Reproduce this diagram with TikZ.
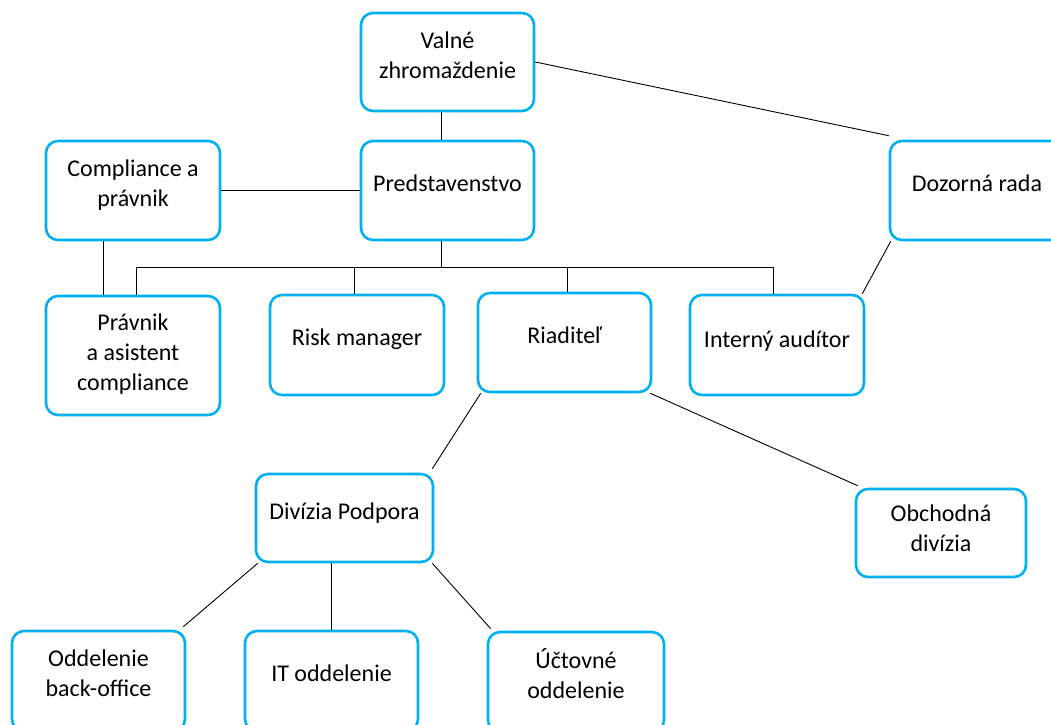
\documentclass[tikz,border=0pt]{standalone}
\usepackage{fontspec}
\setmainfont{Carlito}
\usetikzlibrary{positioning}
\definecolor{boxblue}{RGB}{0,176,240}

\tikzset{
	orgbox/.style={draw=boxblue, line width=2.6pt, rounded corners=12pt, fill=white,
		align=center, minimum width=174pt, minimum height=99pt, inner sep=2pt,
		text depth=15pt, font=\fontsize{24}{30}\selectfont},
	link/.style={black, line width=0.9pt}
}

\begin{document}
\begin{tikzpicture}[x=1pt, y=-1pt]
		\useasboundingbox (0,0) rectangle (1051,724);
		\clip (0,0) rectangle (1051,724);
		% boxes:
		\node [orgbox, minimum width=173pt, minimum height=98pt, text depth=13pt] (valne) at (447.5,62) {Valné\\zhromaždenie};
		\node [orgbox, minimum width=173pt] (pred) at (447.5,190.5) {Predstavenstvo};
		\node [orgbox] (comp) at (133,190.5) {Compliance a\\právnik};
		\node [orgbox] (dozor) at (977,190.5) {Dozorná rada};
		\node [orgbox, minimum height=119pt, text depth=7pt] (pravnik) at (133,355.5) {Právnik\\a asistent\\compliance};
		\node [orgbox, minimum height=100pt] (risk) at (357,345) {Risk manager};
		\node [orgbox, minimum width=173pt] (riad) at (564.5,342.5) {Riaditeľ};
		\node [orgbox, minimum height=100pt, text depth=11pt] (audit) at (777,345) {Interný audítor};
		\node [orgbox, minimum width=177pt, minimum height=88pt, text depth=13pt] (divizia) at (344.5,518) {Divízia Podpora};
		\node [orgbox, minimum width=170pt, minimum height=88pt, text depth=9pt] (obch) at (941,533) {Obchodná\\divízia};
		\node [orgbox, minimum width=173pt, minimum height=100pt] (odd) at (98.5,681) {Oddelenie\\back-office};
		\node [orgbox, minimum width=173pt, minimum height=100pt] (it) at (331.5,681) {IT oddelenie};
		\node [orgbox, minimum width=176pt, minimum height=100pt, text depth=18pt] (uct) at (576,682) {Účtovné\\oddelenie};
		%
		% connectors:
		\draw [link] ([xshift=-6pt]valne.south) -- ([xshift=-6pt]pred.north);
		\draw [link] (valne.east) -- ([yshift=4pt]dozor.north west);
		\draw [link] (comp.east) -- (pred.west);
		\draw [link] ([xshift=-30pt]comp.south) -- ([xshift=-30pt]pravnik.north);
		% bus below Predstavenstvo
		\draw [link] ([xshift=-6pt]pred.south) -- ++(0,26) coordinate (bus);
		\draw [link] ([xshift=3pt]pravnik.north |- bus) -- ([xshift=-4pt]audit.north |- bus);
		\draw [link] ([xshift=3pt]pravnik.north) -- ([xshift=3pt]pravnik.north |- bus);
		\draw [link] ([xshift=-3pt]risk.north) -- ([xshift=-3pt]risk.north |- bus);
		\draw [link] ([xshift=3pt]riad.north) -- ([xshift=3pt]riad.north |- bus);
		\draw [link] ([xshift=-4pt]audit.north) -- ([xshift=-4pt]audit.north |- bus);
		%
		\draw [link] ([xshift=2pt]dozor.south west) -- ([xshift=-3pt]audit.north east);
		\draw [link] ([xshift=4pt]riad.south west) -- ([xshift=-2pt, yshift=4pt]divizia.north east);
		\draw [link] ([xshift=-2pt]riad.south east) -- ([xshift=3pt, yshift=2pt]obch.north west);
		\draw [link] ([xshift=3pt]divizia.south west) -- ([xshift=-3pt, yshift=3pt]odd.north east);
		\draw [link] (it.north |- divizia.south) -- (it.north);
		\draw [link] ([xshift=-2pt]divizia.south east) -- ([xshift=4pt, yshift=2pt]uct.north west);
	\end{tikzpicture}
\end{document}
